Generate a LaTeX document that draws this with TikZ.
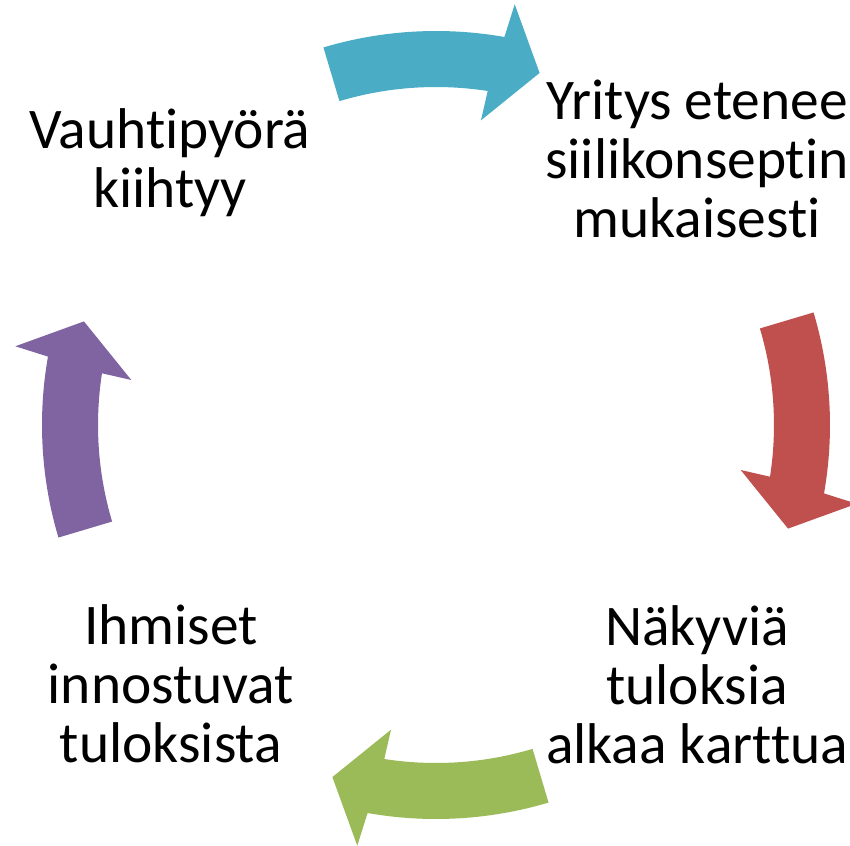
\documentclass[tikz,border=0pt]{standalone}
\usepackage{fontspec}
\setmainfont[RawFeature={-liga}]{Carlito}
\usepackage{tikz}
\usetikzlibrary{positioning}

\definecolor{cycblue}{HTML}{4BACC6}
\definecolor{cycred}{HTML}{C0504D}
\definecolor{cycgreen}{HTML}{9BBB59}
\definecolor{cycviolet}{HTML}{8064A2}

\begin{document}
\begin{tikzpicture}[x=0.02cm,y=0.02cm,
    lbl/.style={align=center,anchor=base,inner sep=0pt,font=\fontsize{32.7pt}{33.3pt}\selectfont}]
\useasboundingbox (-436,-421) rectangle (414,425);
% curved arrows round the circle
\foreach \r/\c in {0/cycblue,-90/cycred,180/cycgreen,90/cycviolet}
    \fill[\c] ({106.6+\r}:394) arc[start angle={106.6+\r},end angle={80+\r},radius=394]
        -- ({79.4+\r}:428) -- ({73.6+\r}:367) -- ({81.6+\r}:308) -- ({81.2+\r}:338)
        arc[start angle={81.2+\r},end angle={106.6+\r},radius=338] -- cycle;

\node[lbl] (yritys) at (261,188) {Yritys etenee\\siilikonseptin\\mukaisesti};
\node[lbl] (nakyvia) at (261,-338) {Näkyviä\\tuloksia\\alkaa karttua};
\node[lbl] (ihmiset) at (-265,-337) {Ihmiset\\innostuvat\\tuloksista};
\node[lbl] (vauhti) at (-266,218) {Vauhtipyörä\\kiihtyy};
\end{tikzpicture}
\end{document}
